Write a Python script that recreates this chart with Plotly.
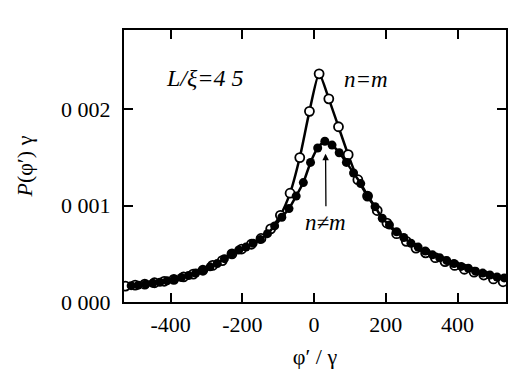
import plotly.graph_objects as go

# n = m (open circles)
phi_open = [-526, -499, -472, -445, -418, -391, -364, -337, -310, -283, -256, -229, -202, -175,
            -148, -121, -94, -67, -40, -13, 14, 41, 68, 95, 122, 149, 176, 203, 230, 257, 284,
            311, 338, 365, 392, 419, 446, 473, 500, 527]
p_open = [0.165, 0.175, 0.185, 0.20, 0.215, 0.235, 0.26, 0.29, 0.33, 0.38, 0.43, 0.50, 0.55, 0.60,
          0.66, 0.76, 0.90, 1.13, 1.50, 1.98, 2.37, 2.11, 1.82, 1.53, 1.27, 1.10, 0.95, 0.82, 0.71,
          0.63, 0.56, 0.51, 0.46, 0.42, 0.38, 0.34, 0.31, 0.28, 0.24, 0.21]

# n != m (filled circles)
phi_fill = [-510, -490, -470, -450, -430, -410, -390, -370, -350, -330, -310, -290, -270, -250,
            -230, -210, -190, -170, -150, -130, -110, -90, -70, -50, -30, -10, 10, 30, 50, 70, 90,
            110, 130, 150, 170, 190, 210, 230, 250, 270, 290, 310, 330, 350, 370, 390, 410, 430,
            450, 470, 490, 510, 530]
p_fill = [0.17, 0.175, 0.185, 0.195, 0.205, 0.22, 0.235, 0.255, 0.275, 0.30, 0.33, 0.365, 0.40,
          0.45, 0.50, 0.54, 0.57, 0.61, 0.65, 0.71, 0.79, 0.88, 0.97, 1.10, 1.24, 1.45, 1.60, 1.67,
          1.63, 1.55, 1.45, 1.34, 1.23, 1.10, 0.99, 0.87, 0.80, 0.73, 0.67, 0.61, 0.57, 0.53, 0.49,
          0.46, 0.43, 0.40, 0.37, 0.35, 0.32, 0.30, 0.28, 0.26, 0.25]

x_ticks = [-400, -200, 0, 200, 400]
x_ticktext = ["-400", "-200", "0", "200", "400"]
y_ticks = [0.0, 0.001, 0.002]
y_ticktext = ["0 000", "0 001", "0 002"]

scale = 1e-3
font = "Liberation Serif, Times New Roman, serif"

fig = go.Figure()
fig.add_trace(go.Scatter(
    x=phi_open, y=[v * scale for v in p_open], mode="lines+markers",
    line=dict(color="black", width=2.5, shape="spline", smoothing=0.6),
    marker=dict(symbol="circle", size=9, color="white", line=dict(color="black", width=1.8)),
    showlegend=False, name="n=m"))
fig.add_trace(go.Scatter(
    x=phi_fill, y=[v * scale for v in p_fill], mode="lines+markers",
    line=dict(color="black", width=2.5, shape="spline", smoothing=0.6),
    marker=dict(symbol="circle", size=9, color="black"),
    showlegend=False, name="n≠m"))

fig.add_annotation(x=32, y=0.00154, ax=33, ay=0.00098, axref="x", ayref="y", xref="x", yref="y",
                   text="", showarrow=True, arrowhead=2, arrowsize=1, arrowwidth=1.3,
                   arrowcolor="black")
fig.add_annotation(x=32, y=0.00083, text="<i>n≠m</i>", showarrow=False,
                   font=dict(family=font, size=23, color="black"))
fig.add_annotation(x=145, y=0.00231, text="<i>n=m</i>", showarrow=False,
                   font=dict(family=font, size=23, color="black"))
fig.add_annotation(x=-305, y=0.00233, text="<i>L/ξ=4 5</i>", showarrow=False,
                   font=dict(family=font, size=24, color="black"))

fig.update_xaxes(range=[-530, 535], tickvals=x_ticks, ticktext=x_ticktext,
                 ticks="inside", ticklen=9, tickwidth=1.5, tickcolor="black",
                 showline=True, linewidth=2, linecolor="black", mirror="ticks",
                 showgrid=False, zeroline=False, ticklabelstandoff=2,
                 tickfont=dict(family=font, size=22, color="black"),
                 title=dict(text="φ′ / γ", font=dict(family=font, size=22, color="black"), standoff=12))
fig.update_yaxes(range=[0, 0.002825], tickvals=y_ticks, ticktext=y_ticktext,
                 ticks="inside", ticklen=9, tickwidth=1.5, tickcolor="black",
                 showline=True, linewidth=2, linecolor="black", mirror="ticks",
                 showgrid=False, zeroline=False, ticklabelstandoff=7,
                 tickfont=dict(family=font, size=22, color="black"),
                 title=dict(text="<i>P</i>(φ′) γ", font=dict(family=font, size=22, color="black"), standoff=22))

fig.update_layout(width=514, height=371, margin=dict(l=124, r=6, t=30, b=67),
                  plot_bgcolor="white", paper_bgcolor="white")
fig.write_html("out.html")
